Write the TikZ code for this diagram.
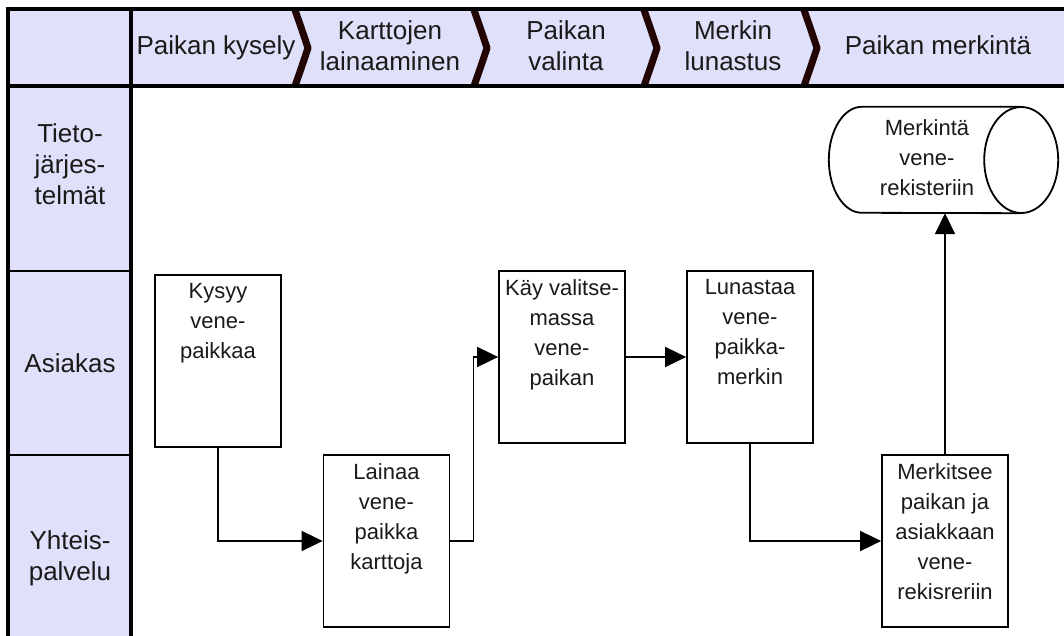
\documentclass[tikz,border=0pt]{standalone}
\usepackage{fontspec}
\setmainfont{Liberation Sans}
\usetikzlibrary{arrows.meta,calc}
\definecolor{lane}{RGB}{224,224,250}
\definecolor{chev}{RGB}{34,6,6}
\definecolor{ink}{RGB}{26,26,26}
\newcommand\hdrfont{\fontsize{26}{31}\selectfont}
\newcommand\boxfont{\fontsize{22}{30}\selectfont}
\begin{document}
\begin{tikzpicture}[x=1pt,y=-1pt,
  actbox/.style={draw, line width=1.8pt, minimum width=126pt, minimum height=172pt, inner sep=0pt, fill=white},
  boxtxt/.style={anchor=north, inner sep=0pt, align=center, font=\boxfont, text=ink},
  hdr/.style={inner sep=0pt, align=center, font=\hdrfont, text=ink},
  conn/.style={line width=1.8pt, -{Triangle[length=21pt,width=20pt]}},
  chevron/.style={line width=7pt, draw=chev, line join=round},
  frame/.style={line width=3.5pt},
  sep/.style={line width=1.8pt},
]
\useasboundingbox (0,0) rectangle (1064,636);
% lane backgrounds
\fill[lane] (8,9) rectangle (1064,86);
\fill[lane] (8,86) rectangle (131,636);
% chevrons
\draw[chevron] (295,10) .. controls (302,30) .. (308,48) .. controls (302,66) .. (295,86);
\draw[chevron] (474,10) .. controls (481,30) .. (487,48) .. controls (481,66) .. (474,86);
\draw[chevron] (644,10) .. controls (651,30) .. (657,48) .. controls (651,66) .. (644,86);
\draw[chevron] (804,10) .. controls (811,30) .. (817,48) .. controls (811,66) .. (804,86);
% frame lines
\draw[frame] (6.25,9) -- (1064,9);
\draw[frame] (6.25,86) -- (1064,86);
\draw[frame] (8,9) -- (8,636);
\draw[frame] (131,9) -- (131,636);
\draw[sep] (8,271) -- (131,271);
\draw[sep] (8,455) -- (131,455);
% header texts
\node[hdr, anchor=base] (h1) at (216,55) {Paikan kysely};
\node[hdr, anchor=north] (h2) at (390,20) {Karttojen\\lainaaminen};
\node[hdr, anchor=north] (h3) at (566,20) {Paikan\\valinta};
\node[hdr, anchor=north] (h4) at (733,20) {Merkin\\lunastus};
\node[hdr, anchor=base] (h5) at (938,55) {Paikan merkintä};
% lane labels
\node[hdr, anchor=north] (t1) at (70,123) {Tieto-\\järjes-\\telmät};
\node[hdr, anchor=base] (t2) at (70,372) {Asiakas};
\node[hdr, anchor=north] (t3) at (70,530) {Yhteis-\\palvelu};
% activity boxes
\node[actbox] (k) at (218,361) {};
\node[actbox] (l) at (386.5,541) {};
\node[actbox] (v) at (562,357) {};
\node[actbox] (m) at (750,357) {};
\node[actbox] (r) at (945,541) {};
\node[boxtxt] (kt) at ($(k.north)+(0,9)$) {Kysyy\\vene-\\paikkaa};
\node[boxtxt] (lt) at ($(l.north)+(0,9)$) {Lainaa\\vene-\\paikka\\karttoja};
\node[boxtxt] (vt) at ($(v.north)+(0,9)$) {Käy valitse-\\massa\\vene-\\paikan};
\node[boxtxt] (mt) at ($(m.north)+(0,9)$) {Lunastaa\\vene-\\paikka-\\merkin};
\node[boxtxt] (rt) at ($(r.north)+(0,9)$) {Merkitsee\\paikan ja\\asiakkaan\\vene-\\rekisreriin};
% data store (horizontal cylinder)
\node[minimum width=229pt, minimum height=106pt, inner sep=0pt] (cyl) at (943.5,160) {};
\draw[line width=1.8pt, fill=white] ($(cyl.north east)+(-37,0)$) -- ($(cyl.north west)+(33,0)$)
  arc[start angle=90, end angle=270, x radius=33pt, y radius=53pt] -- ($(cyl.south east)+(-37,0)$);
\draw[line width=1.8pt] ($(cyl.east)+(-37,0)$) ellipse[x radius=37pt, y radius=53pt];
\node[boxtxt] (ct) at (927,119) {Merkintä\\vene-\\rekisteriin};
% connectors
\draw[conn] (k.south) |- (l.west);
\draw[conn] (l.east) -- ++(23,0) |- (v.west);
\draw[conn] (v.east) -- (m.west);
\draw[conn] (m.south) |- (r.west);
\draw[conn] (r.north) -- (r.north |- cyl.south);
\end{tikzpicture}
\end{document}
